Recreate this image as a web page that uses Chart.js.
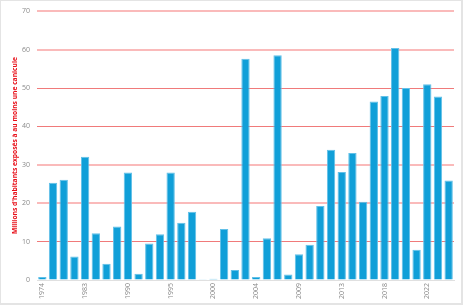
<!DOCTYPE html>
<html>
<head>
<meta charset="utf-8">
<script src="https://cdn.jsdelivr.net/npm/chart.js@4/dist/chart.umd.min.js"></script>
<style>
html,body{margin:0;padding:0;background:#fff;}
#wrap{width:463px;height:305px;position:relative;}
</style>
</head>
<body>
<div id="wrap"><canvas id="c" width="463" height="305"></canvas></div>
<script>
const years = ['1974','1975','1976','1982','1983','1984','1987','1989','1990','1991','1992','1994','1995','1996','1998','1999','2000','2001','2002','2003','2004','2005','2006','2008','2009','2010','2011','2012','2013','2015','2016','2017','2018','2019','2020','2021','2022','2023','2024'];
const exposed = [0.8,25.3,26.1,6.1,32.1,12.2,4.2,13.9,28.0,1.6,9.5,11.9,28.0,14.9,17.8,0.2,0.3,13.3,2.6,57.6,0.8,10.9,58.5,1.4,6.7,9.2,19.3,33.9,28.1,33.1,20.4,46.5,47.9,60.4,50.0,7.9,51.0,47.8,25.9];
const yTicks = [0,10,20,30,40,50,60,70];
const softLines = [20,30,60,70];
const yTitle = "Millions d'habitants exposés à au moins une canicule";

const frame = {
  id:'frame',
  afterDraw(chart){
    const ctx = chart.ctx;
    ctx.save();
    ctx.fillStyle = '#e4e4e4';
    ctx.fillRect(0,0,463,1);
    ctx.fillRect(0,0,1,305);
    ctx.fillRect(461,0,2,305);
    ctx.fillRect(0,303,463,2);
    ctx.restore();
  }
};

new Chart(document.getElementById('c'), {
  type:'bar',
  data:{
    labels: years,
    datasets:[{
      data: exposed,
      backgroundColor:'#109fd8',
      borderColor:'#62c0e8',
      borderWidth:1,
      barPercentage:0.78,
      categoryPercentage:1
    }]
  },
  options:{
    responsive:false,
    animation:false,
    devicePixelRatio:1,
    layout:{padding:{top:9,right:9,bottom:0,left:0}},
    plugins:{legend:{display:false},tooltip:{enabled:false}},
    scales:{
      x:{
        grid:{display:false,drawTicks:false},
        border:{display:true,color:'#e0e0e0',width:1},
        ticks:{
          autoSkip:false,
          maxRotation:90,minRotation:90,
          padding:3,
          color:'#8a8a8a',
          font:{family:'"Open Sans", sans-serif',size:7},
          callback:function(v,i){ return i%4===0 ? years[i] : ''; }
        },
        afterFit(s){ s.height = 25; }
      },
      y:{
        min:0,max:70,
        afterBuildTicks(s){ s.ticks = yTicks.map(v=>({value:v})); },
        grid:{
          drawTicks:false,
          color:(c)=> {
            if (!c.tick || c.tick.value===0) return 'rgba(0,0,0,0)';
            return softLines.includes(c.tick.value) ? 'rgba(246,140,140,0.6)' : '#f07a7a';
          },
          lineWidth:(c)=> (c.tick && softLines.includes(c.tick.value)) ? 2 : 1
        },
        border:{display:false},
        ticks:{
          padding:7,
          color:'#8a8a8a',
          font:{family:'"Open Sans", sans-serif',size:7}
        },
        title:{
          display:true,
          text:yTitle,
          color:'#e8101a',
          font:{family:'"Open Sans", sans-serif',size:6.7,weight:'bold'},
          padding:{top:11,bottom:0}
        },
        afterFit(s){ s.width = 37; }
      }
    }
  },
  plugins:[frame]
});
</script>
</body>
</html>
